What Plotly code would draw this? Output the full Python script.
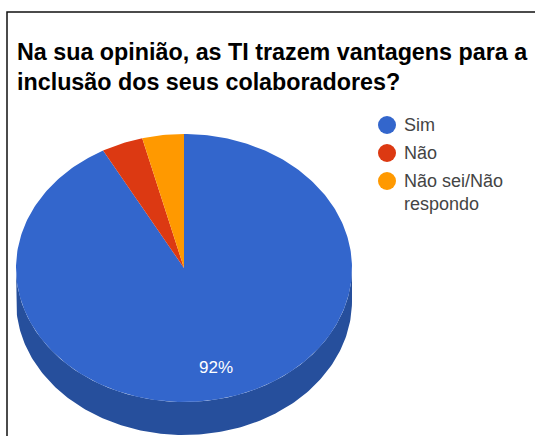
import numpy as np
import plotly.graph_objects as go

categories = ["Sim", "Não", "Não sei/Não<br>respondo"]
values = [92, 4, 4]
colors = ["#3366CC", "#DC3912", "#FF9900"]
side_color = "#264F9C"
title_text = "Na sua opinião, as TI trazem vantagens para a<br>inclusão dos seus colaboradores?"

W, H = 535, 436
CX, CY, RX, RY = 184, 268, 168, 134
DEPTH = 33 / RY


def px(x):
    return (x - CX) / RX


def py(y):
    return (CY - y) / RY


fig = go.Figure()

# Rim of the tilted pie: lower half of the ellipse and the same arc dropped by the depth
t = np.radians(np.linspace(90, 270, 181))
rim_x = np.concatenate([np.sin(t), np.sin(t[::-1])])
rim_y = np.concatenate([np.cos(t), np.cos(t[::-1]) - DEPTH])
fig.add_trace(go.Scatter(x=rim_x, y=rim_y, mode="lines", fill="toself", fillcolor=side_color,
                         line=dict(color=side_color, width=0), showlegend=False, hoverinfo="skip"))

# Slices run clockwise from twelve o'clock
edges = np.concatenate([[0], np.cumsum(values)]) / sum(values) * 360
for name, color, start, end in zip(categories, colors, edges[:-1], edges[1:]):
    a = np.radians(np.linspace(start, end, max(int(end - start), 2) + 1))
    fig.add_trace(go.Scatter(
        x=np.concatenate([[0], np.sin(a), [0]]),
        y=np.concatenate([[0], np.cos(a), [0]]),
        mode="lines", fill="toself", fillcolor=color,
        line=dict(color=color, width=0), name=name, showlegend=False,
    ))

# Percentage label of the large slice, placed along its bisector
mid = np.radians((edges[0] + edges[1]) / 2)
share = f"{values[0] / sum(values) * 100:.0f}%"
fig.add_annotation(x=0.77 * np.sin(mid), y=0.77 * np.cos(mid), text=share, showarrow=False,
                   font=dict(family="Liberation Sans", size=17, color="white"))

# Legend: round swatches with labels on the right
legend_rows = [125, 153, 181]
fig.add_trace(go.Scatter(
    x=[px(387)] * 3, y=[py(r) for r in legend_rows], mode="markers",
    marker=dict(size=18, color=colors), showlegend=False, hoverinfo="skip",
))
for label, row in zip(categories, legend_rows):
    fig.add_annotation(x=px(402.5), y=py(row - 11), text=label, showarrow=False, xanchor="left", yanchor="top",
                       align="left", font=dict(family="Liberation Sans", size=18, color="#444444"))

fig.update_annotations(borderpad=0)

bold_title = "<b>" + title_text.replace("<br>", "</b><br><b>") + "</b>"
fig.add_annotation(xref="paper", yref="paper", x=15.5 / W, y=1 - 38 / H, text=bold_title, showarrow=False,
                   xanchor="left", yanchor="top", align="left", borderpad=0,
                   font=dict(family="Liberation Sans", size=23.3, color="black"))

# Frame open at the right and bottom
fig.add_shape(type="path", xref="paper", yref="paper",
              path=f"M {7 / W} 0 L {7 / W} {1 - 12 / H} L 1 {1 - 12 / H}",
              line=dict(color="#111111", width=1.5))

fig.update_layout(
    width=W, height=H, margin=dict(l=0, r=0, t=0, b=0),
    paper_bgcolor="white", plot_bgcolor="white", showlegend=False,
    xaxis=dict(range=[px(0), px(W)], visible=False, fixedrange=True),
    yaxis=dict(range=[py(H), py(0)], visible=False, fixedrange=True),
)
fig.write_html("out.html", config={"displayModeBar": False})
